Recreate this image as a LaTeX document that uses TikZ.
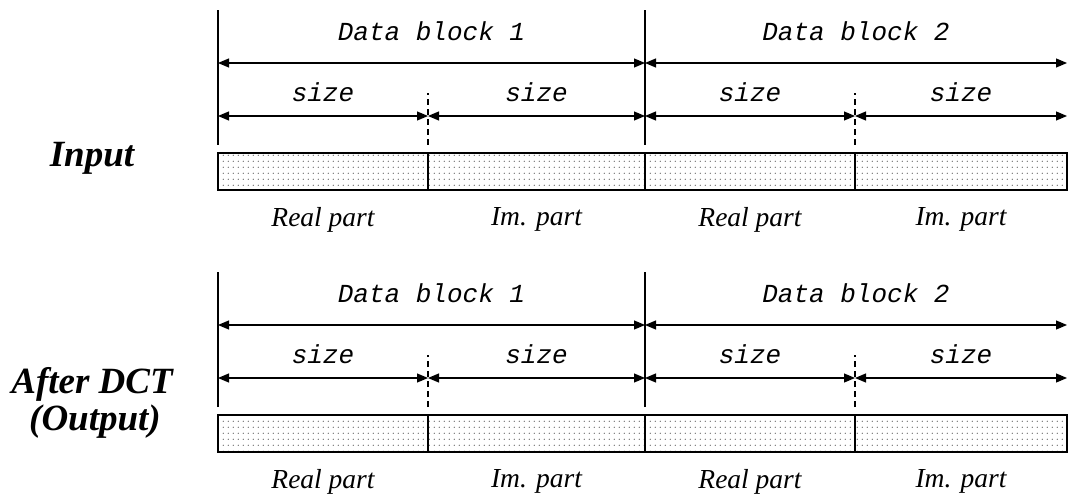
\documentclass[tikz,border=0pt]{standalone}
\usepackage{fontspec}
\setmainfont{Liberation Serif}
\setmonofont{Liberation Mono}
\usetikzlibrary{positioning,arrows.meta,patterns.meta}

\tikzdeclarepattern{name=dotfill,type=uncolored,
  bottom left={(0pt,0pt)},top right={(4.7pt,6.2pt)},tile size={(4.7pt,6.2pt)},
  code={\fill (2.35pt,3.1pt) circle (0.65pt);}}

\begin{document}
\begin{tikzpicture}[
  x=1pt,y=-1pt,
  node distance=0pt
]

  \path[use as bounding box] (0,0) rectangle (1068,497);

  \tikzstyle{cellnode}=[draw,rectangle,line width=1.3pt,pattern=dotfill,pattern color=black!65,minimum height=37pt,inner sep=0pt,outer sep=0pt]
  \tikzstyle{tickline}=[draw,line width=1.5pt]
  \tikzstyle{halfline}=[draw,line width=1.3pt,dash pattern=on 6pt off 4pt]
  \tikzstyle{dimline}=[draw,<->,>={Triangle[length=11pt,width=9pt]},line width=1.2pt]
  \tikzstyle{blocklab}=[inner sep=0pt,font=\fontsize{26}{30}\selectfont\ttfamily\itshape]
  \tikzstyle{partlab}=[inner sep=0pt,font=\fontsize{27.5}{32}\selectfont\itshape]
  \tikzstyle{rowlab}=[inner sep=0pt,anchor=base,font=\fontsize{37}{42}\selectfont\bfseries\itshape]

  % input row
  \node[cellnode,minimum width=210pt,anchor=north west] (re1) at (218,153) {};
  \node[cellnode,minimum width=217pt,right=of re1] (im1) {};
  \node[cellnode,minimum width=210pt,right=of im1] (re2) {};
  \node[cellnode,minimum width=212pt,right=of re2] (im2) {};

  \node[partlab,below=17pt of re1] (re1lab) {Real part};
  \node[partlab,below=17pt of im1] (im1lab) {Im. part};
  \node[partlab,below=17pt of re2] (re2lab) {Real part};
  \node[partlab,below=17pt of im2] (im2lab) {Im. part};

  \node[rowlab] (inlab) at (92,167) {Input};

  \coordinate (t0) at ([yshift=8pt]re1.north west);
  \coordinate (t1) at ([yshift=8pt]im1.north west);
  \coordinate (t2) at ([yshift=8pt]re2.north west);
  \coordinate (t3) at ([yshift=8pt]im2.north west);
  \coordinate (t4) at ([yshift=8pt]im2.north east);

  \draw[tickline] (t0) -- ++(0,-135);
  \draw[tickline] (t2) -- ++(0,-135);
  \draw[halfline] (t1) -- ++(0,-52);
  \draw[halfline] (t3) -- ++(0,-52);

  \draw[dimline] ([yshift=82pt]t0) -- ([yshift=82pt]t2) node[blocklab,midway,above=22pt] (blk1) {Data block 1};
  \draw[dimline] ([yshift=82pt]t2) -- ([yshift=82pt]t4) node[blocklab,midway,above=22pt] (blk2) {Data block 2};
  \draw[dimline] ([yshift=29pt]t0) -- ([yshift=29pt]t1) node[blocklab,midway,above=14pt] (sz1) {size};
  \draw[dimline] ([yshift=29pt]t1) -- ([yshift=29pt]t2) node[blocklab,midway,above=14pt] (sz2) {size};
  \draw[dimline] ([yshift=29pt]t2) -- ([yshift=29pt]t3) node[blocklab,midway,above=14pt] (sz3) {size};
  \draw[dimline] ([yshift=29pt]t3) -- ([yshift=29pt]t4) node[blocklab,midway,above=14pt] (sz4) {size};

  % output row
  \node[cellnode,minimum width=210pt,anchor=north west] (ore1) at (218,415) {};
  \node[cellnode,minimum width=217pt,right=of ore1] (oim1) {};
  \node[cellnode,minimum width=210pt,right=of oim1] (ore2) {};
  \node[cellnode,minimum width=212pt,right=of ore2] (oim2) {};

  \node[partlab,below=17pt of ore1] (ore1lab) {Real part};
  \node[partlab,below=17pt of oim1] (oim1lab) {Im. part};
  \node[partlab,below=17pt of ore2] (ore2lab) {Real part};
  \node[partlab,below=17pt of oim2] (oim2lab) {Im. part};

  \node[rowlab] (dctlab) at (92,393) {After DCT};
  \node[rowlab] (outlab) at (95,430) {(Output)};

  \coordinate (o0) at ([yshift=8pt]ore1.north west);
  \coordinate (o1) at ([yshift=8pt]oim1.north west);
  \coordinate (o2) at ([yshift=8pt]ore2.north west);
  \coordinate (o3) at ([yshift=8pt]oim2.north west);
  \coordinate (o4) at ([yshift=8pt]oim2.north east);

  \draw[tickline] (o0) -- ++(0,-135);
  \draw[tickline] (o2) -- ++(0,-135);
  \draw[halfline] (o1) -- ++(0,-52);
  \draw[halfline] (o3) -- ++(0,-52);

  \draw[dimline] ([yshift=82pt]o0) -- ([yshift=82pt]o2) node[blocklab,midway,above=22pt] (oblk1) {Data block 1};
  \draw[dimline] ([yshift=82pt]o2) -- ([yshift=82pt]o4) node[blocklab,midway,above=22pt] (oblk2) {Data block 2};
  \draw[dimline] ([yshift=29pt]o0) -- ([yshift=29pt]o1) node[blocklab,midway,above=14pt] (osz1) {size};
  \draw[dimline] ([yshift=29pt]o1) -- ([yshift=29pt]o2) node[blocklab,midway,above=14pt] (osz2) {size};
  \draw[dimline] ([yshift=29pt]o2) -- ([yshift=29pt]o3) node[blocklab,midway,above=14pt] (osz3) {size};
  \draw[dimline] ([yshift=29pt]o3) -- ([yshift=29pt]o4) node[blocklab,midway,above=14pt] (osz4) {size};

\end{tikzpicture}
\end{document}
